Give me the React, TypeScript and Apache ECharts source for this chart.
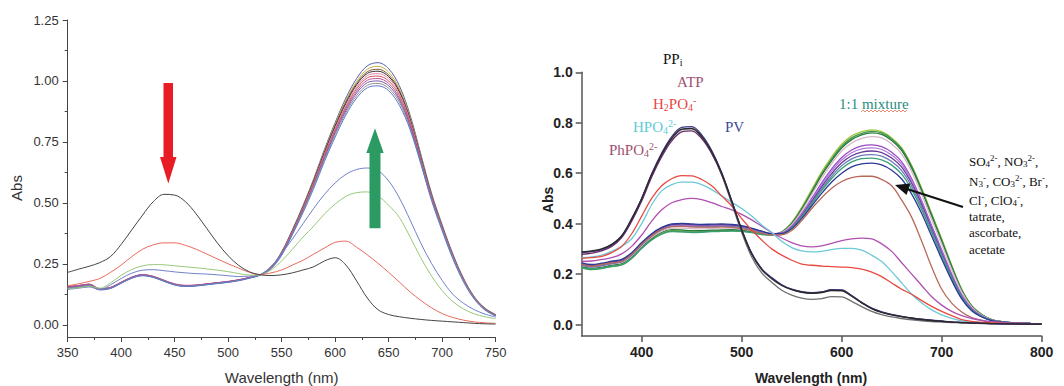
import React, { useEffect, useRef } from "react";
import * as echarts from "echarts";

// ---------------- DATA ----------------
// Left panel wavelengths (nm)
const WL_L = [350,360,370,380,390,400,410,420,430,440,450,460,470,480,490,500,510,520,530,540,550,560,570,580,590,600,610,620,630,640,650,660,670,680,690,700,710,720,730,740,750];
// Left panel: titration spectra
const L_BLACK = [.215,.228,.24,.255,.28,.33,.39,.45,.505,.535,.532,.505,.455,.395,.335,.283,.243,.217,.205,.202,.205,.213,.225,.238,.262,.275,.245,.18,.11,.062,.042,.033,.027,.022,.018,.015,.012,.009,.006,.004,.003];
const L_RED = [.16,.168,.178,.19,.215,.245,.28,.31,.328,.336,.336,.326,.31,.29,.27,.25,.232,.215,.206,.213,.225,.245,.265,.29,.315,.338,.343,.318,.287,.252,.215,.175,.135,.1,.07,.046,.03,.019,.012,.008,.006];
const L_GREEN = [.148,.152,.158,.15,.172,.203,.227,.242,.247,.246,.242,.238,.234,.229,.224,.218,.21,.204,.205,.225,.262,.31,.36,.405,.455,.495,.527,.542,.545,.528,.49,.44,.36,.275,.2,.14,.095,.065,.045,.033,.025];
const L_BLUE = [.145,.15,.155,.145,.164,.19,.212,.224,.226,.222,.217,.213,.21,.208,.205,.201,.198,.2,.206,.24,.292,.352,.415,.478,.535,.582,.617,.637,.643,.632,.59,.52,.43,.335,.252,.182,.125,.088,.062,.044,.032];
const L_B1 = [.152,.157,.163,.145,.151,.172,.193,.203,.196,.18,.165,.159,.161,.166,.171,.176,.183,.193,.206,.236,.3,.39,.49,.6,.72,.83,.93,1.01,1.062,1.075,1.05,.98,.86,.7,.54,.41,.29,.19,.115,.068,.042];
const L_B2 = [.155,.159,.165,.147,.152,.173,.194,.204,.197,.181,.166,.16,.162,.167,.172,.177,.184,.194,.206,.235,.298,.388,.487,.596,.714,.823,.92,.998,1.048,1.06,1.036,.968,.85,.692,.535,.405,.287,.188,.114,.067,.041];
const L_B3 = [.158,.161,.167,.148,.153,.174,.195,.205,.198,.182,.166,.16,.162,.167,.172,.177,.184,.194,.206,.235,.297,.386,.485,.593,.71,.818,.914,.99,1.038,1.048,1.025,.96,.845,.688,.532,.403,.285,.187,.113,.066,.04];
const L_B4 = [.154,.158,.164,.146,.152,.173,.194,.204,.197,.181,.165,.159,.161,.166,.171,.176,.183,.193,.205,.234,.296,.385,.483,.59,.706,.813,.908,.984,1.031,1.04,1.018,.955,.84,.685,.53,.401,.284,.186,.112,.066,.04];
const L_B5 = [.156,.16,.166,.147,.153,.174,.195,.205,.198,.182,.167,.161,.163,.168,.173,.178,.185,.195,.206,.234,.295,.383,.48,.586,.7,.806,.9,.975,1.022,1.03,1.01,.948,.835,.68,.527,.399,.282,.185,.112,.065,.039];
const L_B6 = [.153,.157,.163,.146,.151,.172,.193,.203,.196,.18,.165,.159,.161,.166,.171,.176,.183,.193,.205,.233,.293,.38,.476,.582,.695,.8,.893,.967,1.013,1.02,1.0,.94,.828,.676,.524,.397,.281,.184,.111,.065,.039];
const L_B7 = [.157,.161,.167,.148,.154,.175,.196,.206,.199,.183,.168,.162,.163,.168,.173,.178,.185,.195,.206,.233,.292,.378,.473,.578,.69,.794,.886,.958,1.003,1.01,.99,.93,.82,.672,.52,.395,.279,.183,.11,.064,.038];
const L_B8 = [.154,.158,.164,.146,.152,.173,.194,.204,.197,.181,.166,.16,.162,.167,.172,.177,.184,.194,.205,.232,.29,.375,.47,.574,.684,.787,.878,.95,.993,1.0,.98,.922,.814,.668,.518,.393,.278,.182,.11,.064,.038];
const L_B9 = [.15,.155,.161,.144,.15,.171,.192,.202,.195,.179,.164,.158,.16,.165,.17,.175,.182,.192,.204,.231,.288,.372,.466,.569,.678,.78,.87,.94,.982,.99,.97,.912,.806,.664,.515,.391,.277,.181,.109,.063,.037];
const L_B10 = [.148,.153,.159,.143,.149,.17,.191,.201,.194,.178,.163,.157,.159,.164,.169,.174,.181,.191,.204,.23,.285,.37,.46,.56,.67,.77,.86,.93,.972,.98,.96,.9,.8,.66,.51,.385,.27,.175,.105,.06,.036];

// Right panel wavelengths (nm)
const WL_R = [340,350,360,370,380,390,400,410,420,430,440,450,460,470,480,490,500,510,520,530,540,550,560,570,580,590,600,610,620,630,640,650,660,670,680,690,700,710,720,730,740,750,760,770,780,790,800];
// Right panel: other anions + 1:1 mixture
const R_A1 = [.228,.222,.226,.232,.238,.265,.305,.338,.362,.372,.372,.37,.37,.372,.373,.374,.372,.366,.36,.357,.368,.405,.465,.535,.605,.665,.715,.748,.765,.772,.765,.74,.70,.63,.54,.44,.34,.235,.14,.075,.04,.02,.012,.008,.005,.004,.003];
const R_A2 = [.225,.218,.222,.23,.236,.262,.302,.336,.36,.37,.368,.366,.367,.369,.37,.372,.37,.365,.358,.356,.366,.402,.46,.528,.597,.657,.707,.74,.758,.766,.76,.736,.696,.626,.535,.435,.335,.232,.138,.074,.04,.02,.012,.008,.005,.004,.003];
const R_A3 = [.23,.224,.228,.236,.242,.268,.308,.342,.366,.376,.375,.372,.372,.374,.375,.376,.374,.368,.362,.358,.367,.4,.456,.523,.592,.65,.7,.733,.752,.76,.754,.73,.69,.62,.53,.43,.33,.228,.136,.073,.039,.02,.012,.008,.005,.004,.003];
const R_A4 = [.235,.228,.232,.24,.246,.272,.312,.346,.37,.382,.382,.38,.379,.381,.382,.382,.379,.372,.364,.358,.365,.396,.45,.515,.58,.638,.688,.72,.738,.745,.74,.716,.676,.606,.516,.416,.318,.218,.13,.07,.037,.019,.011,.007,.005,.004,.003];
const R_A5 = [.238,.23,.235,.243,.25,.277,.317,.352,.377,.39,.392,.39,.389,.39,.391,.39,.386,.377,.367,.36,.363,.39,.44,.5,.562,.617,.662,.692,.708,.712,.705,.683,.645,.578,.49,.392,.296,.2,.118,.064,.034,.018,.011,.007,.005,.004,.003];
const R_A6 = [.24,.232,.237,.245,.252,.279,.319,.354,.379,.392,.394,.392,.39,.391,.392,.391,.387,.378,.368,.36,.362,.388,.436,.494,.554,.608,.652,.681,.696,.70,.694,.672,.635,.57,.484,.386,.29,.196,.115,.062,.033,.017,.01,.007,.005,.004,.003];
const R_A7 = [.242,.235,.24,.248,.255,.282,.322,.357,.382,.396,.398,.396,.394,.395,.396,.394,.389,.38,.369,.36,.361,.386,.432,.488,.546,.598,.641,.669,.684,.688,.682,.66,.624,.56,.476,.38,.284,.192,.112,.06,.032,.017,.01,.007,.005,.004,.003];
const R_A8 = [.236,.229,.234,.242,.249,.276,.316,.351,.376,.389,.39,.388,.387,.388,.389,.388,.384,.376,.366,.359,.36,.384,.428,.482,.538,.588,.63,.657,.671,.674,.668,.646,.61,.548,.466,.372,.278,.188,.11,.059,.032,.017,.01,.007,.005,.004,.003];
const R_A9 = [.226,.22,.224,.231,.237,.263,.302,.335,.358,.368,.367,.365,.366,.368,.369,.37,.369,.364,.357,.354,.358,.382,.425,.477,.531,.579,.619,.645,.658,.66,.653,.632,.596,.535,.455,.363,.27,.182,.106,.057,.031,.016,.01,.007,.005,.004,.003];
const R_A10 = [.244,.238,.243,.251,.258,.285,.325,.36,.385,.399,.401,.399,.397,.398,.399,.397,.392,.382,.37,.36,.36,.38,.42,.47,.52,.565,.6,.625,.637,.64,.633,.612,.577,.517,.44,.35,.26,.175,.102,.055,.03,.016,.01,.007,.005,.004,.003];
const R_A11 = [.24,.232,.238,.245,.25,.278,.318,.352,.377,.388,.389,.387,.386,.386,.387,.385,.38,.372,.362,.355,.356,.373,.412,.46,.503,.54,.567,.582,.588,.588,.575,.55,.493,.425,.33,.228,.14,.085,.05,.028,.017,.011,.008,.006,.005,.004,.003];
// Right panel: PPi / ATP / PV group
const R_PPI = [.288,.292,.3,.318,.352,.42,.5,.595,.675,.738,.775,.778,.745,.685,.6,.49,.375,.28,.218,.182,.155,.138,.128,.124,.127,.135,.134,.112,.086,.063,.048,.038,.031,.025,.02,.016,.013,.01,.008,.006,.005,.004,.003,.003,.002,.002,.002];
const R_PV = [.285,.29,.298,.316,.35,.418,.5,.598,.68,.745,.782,.785,.752,.69,.603,.492,.377,.283,.222,.186,.158,.14,.13,.126,.129,.138,.137,.115,.088,.065,.05,.04,.032,.026,.021,.017,.014,.011,.009,.007,.005,.004,.004,.003,.003,.002,.002];
const R_ATP = [.278,.283,.292,.31,.345,.41,.49,.585,.665,.728,.764,.768,.737,.678,.595,.487,.374,.281,.22,.184,.157,.139,.129,.125,.128,.137,.136,.114,.087,.064,.049,.039,.031,.025,.02,.016,.013,.01,.008,.006,.005,.004,.003,.003,.002,.002,.002];
const R_GRAY = [.284,.289,.297,.315,.349,.416,.497,.592,.672,.736,.773,.776,.742,.68,.593,.48,.365,.268,.205,.168,.136,.117,.105,.1,.103,.111,.11,.092,.071,.052,.039,.03,.024,.019,.015,.012,.01,.008,.006,.005,.004,.003,.003,.002,.002,.002,.002];
const R_H2PO4 = [.262,.265,.27,.285,.31,.36,.43,.5,.55,.578,.59,.589,.575,.55,.51,.47,.42,.375,.335,.3,.275,.255,.24,.235,.232,.23,.228,.226,.22,.208,.19,.165,.14,.12,.095,.072,.052,.035,.02,.013,.009,.007,.005,.004,.004,.003,.003];
const R_HPO4 = [.265,.268,.275,.29,.31,.34,.4,.475,.53,.555,.565,.565,.555,.535,.51,.485,.46,.43,.395,.365,.33,.305,.292,.288,.29,.297,.302,.302,.295,.275,.25,.21,.165,.12,.085,.058,.038,.024,.015,.01,.007,.005,.004,.004,.003,.003,.003];
const R_PHPO4 = [.25,.252,.258,.265,.28,.31,.355,.41,.455,.483,.495,.5,.495,.483,.468,.455,.437,.415,.39,.365,.343,.325,.312,.308,.312,.322,.333,.34,.343,.34,.32,.29,.245,.2,.155,.11,.077,.052,.035,.024,.016,.011,.008,.006,.005,.004,.004];

// Tick labels
const L_X_TICKS = [350,400,450,500,550,600,650,700,750];
const L_Y_TICKS = [0,0.25,0.5,0.75,1.0,1.25];
const L_Y_MINOR = [0.125,0.375,0.625,0.875,1.125];
const R_X_TICKS = [400,500,600,700,800];
const R_Y_TICKS = [0,0.2,0.4,0.6,0.8,1.0];

// ---------------- STYLE ----------------
const SANS = '"Liberation Sans", Arial, sans-serif';
const SERIF = '"Liberation Serif", "Times New Roman", serif';

const LEFT_SERIES: [number[], string][] = [
  [L_B1, "#5060a8"], [L_B2, "#c8b040"], [L_B3, "#8a5a3a"], [L_B4, "#333333"], [L_B5, "#e08ab0"],
  [L_B6, "#d05858"], [L_B7, "#c050a0"], [L_B8, "#7a5aa0"], [L_B9, "#909090"], [L_B10, "#5a7ad0"],
  [L_BLUE, "#7080c8"], [L_GREEN, "#98c878"], [L_RED, "#e86a5a"], [L_BLACK, "#444444"],
];
const RIGHT_SERIES: [number[], string][] = [
  [R_A1, "#a8c43c"], [R_A2, "#3a9a4a"], [R_A3, "#2a7a40"], [R_A4, "#d8b8c8"], [R_A5, "#9a4ac8"],
  [R_A6, "#b07ad8"], [R_A7, "#6a3a9a"], [R_A8, "#6a7ab8"], [R_A9, "#3aa078"], [R_A10, "#2a3a96"],
  [R_A11, "#b86a5a"], [R_PHPO4, "#b050b0"], [R_HPO4, "#6ccad8"], [R_H2PO4, "#e84a40"],
  [R_GRAY, "#707070"], [R_ATP, "#6a2a6a"], [R_PV, "#3a3a88"], [R_PPI, "#2a2a2a"],
];

function rich(color: string, size: number) {
  const sub = Math.round(size * 0.66);
  return {
    n: { fill: color, fontFamily: SERIF, fontSize: size, lineHeight: size + 2, verticalAlign: "middle" },
    b: { fill: color, fontFamily: SERIF, fontSize: sub, lineHeight: sub, verticalAlign: "bottom" },
    t: { fill: color, fontFamily: SERIF, fontSize: sub, lineHeight: sub, verticalAlign: "top" },
  };
}

function label(x: number, y: number, text: string, color: string, size: number) {
  return {
    type: "text", x, y, z: 100,
    style: { text, fill: color, fontFamily: SERIF, fontSize: size, align: "left", verticalAlign: "middle", rich: rich(color, size) },
  };
}

export default function App() {
  const ref = useRef<HTMLDivElement>(null);
  useEffect(() => {
    if (!ref.current) return;
    const chart = echarts.init(ref.current, undefined, { renderer: "svg" });

    const series: any[] = [];
    LEFT_SERIES.forEach(([ys, c], i) => {
      series.push({
        type: "line", name: "L" + i, xAxisIndex: 0, yAxisIndex: 0, showSymbol: false, smooth: 0.35,
        lineStyle: { color: c, width: 1 }, data: WL_L.map((x, k) => [x, ys[k]]), silent: true,
      });
    });
    RIGHT_SERIES.forEach(([ys, c], i) => {
      series.push({
        type: "line", name: "R" + i, xAxisIndex: 1, yAxisIndex: 2, showSymbol: false, smooth: 0.35,
        lineStyle: { color: c, width: 1.3 }, data: WL_R.map((x, k) => [x, ys[k]]), silent: true,
      });
    });

    const wavy: number[][] = [];
    for (let x = 861, k = 0; x <= 908; x += 2, k++) wavy.push([x, k % 2 ? 110 : 112]);

    const option: any = {
      animation: false,
      textStyle: { fontFamily: SANS },
      grid: [
        { left: 67.7, top: 20, width: 428, height: 317, outerBoundsMode: "none", containLabel: false },
        { left: 581.7, top: 72.3, width: 460, height: 263.6, outerBoundsMode: "none", containLabel: false },
      ],
      xAxis: [
        {
          gridIndex: 0, type: "value", min: 350, max: 750, interval: 50,
          axisLine: { onZero: false, lineStyle: { color: "#444", width: 1 } },
          axisTick: { length: 5, lineStyle: { color: "#444" } },
          minorTick: { show: true, splitNumber: 2, length: 3, lineStyle: { color: "#444" } },
          axisLabel: { color: "#333", fontSize: 13, fontFamily: SANS, margin: 9, customValues: L_X_TICKS },
          splitLine: { show: false }, minorSplitLine: { show: false },
        },
        {
          gridIndex: 1, type: "value", min: 340, max: 800,
          axisLine: { onZero: false, lineStyle: { color: "#555", width: 1.5 } },
          axisTick: { customValues: R_X_TICKS, length: 6, lineStyle: { color: "#555", width: 1.5 } },
          axisLabel: { customValues: R_X_TICKS, color: "#222", fontSize: 14, fontWeight: "bold", fontFamily: SANS, margin: 9 },
          splitLine: { show: false },
        },
      ],
      yAxis: [
        {
          gridIndex: 0, type: "value", min: -0.05, max: 1.25,
          axisLine: { show: true, onZero: false, lineStyle: { color: "#444", width: 1 } },
          axisTick: { show: true, customValues: L_Y_TICKS, length: 5, lineStyle: { color: "#444" } },
          axisLabel: { customValues: L_Y_TICKS, formatter: (v: number) => v.toFixed(2), color: "#333", fontSize: 13, fontFamily: SANS, margin: 9 },
          splitLine: { show: false },
        },
        {
          gridIndex: 0, type: "value", min: -0.05, max: 1.25, position: "left",
          axisLine: { show: false, onZero: false },
          axisTick: { show: true, customValues: L_Y_MINOR, length: 3, lineStyle: { color: "#444" } },
          axisLabel: { show: false },
          splitLine: { show: false },
        },
        {
          gridIndex: 1, type: "value", min: -0.045, max: 1.0,
          axisLine: { show: true, onZero: false, lineStyle: { color: "#555", width: 1.5 } },
          axisTick: { show: true, customValues: R_Y_TICKS, length: 6, lineStyle: { color: "#555", width: 1.5 } },
          axisLabel: { customValues: R_Y_TICKS, formatter: (v: number) => v.toFixed(1), color: "#222", fontSize: 14, fontWeight: "bold", fontFamily: SANS, margin: 9 },
          splitLine: { show: false },
        },
      ],
      series,
      graphic: [
        // axis titles
        { type: "text", x: 281.7, y: 377, style: { text: "Wavelength (nm)", fill: "#333", fontFamily: SANS, fontSize: 15, align: "center", verticalAlign: "middle" } },
        { type: "text", x: 16.5, y: 188, rotation: Math.PI / 2, style: { text: "Abs", fill: "#333", fontFamily: SANS, fontSize: 15, align: "center", verticalAlign: "middle" } },
        { type: "text", x: 811, y: 378, style: { text: "Wavelength (nm)", fill: "#222", fontFamily: SANS, fontSize: 14, fontWeight: "bold", align: "center", verticalAlign: "middle" } },
        { type: "text", x: 548, y: 200, rotation: Math.PI / 2, style: { text: "Abs", fill: "#222", fontFamily: SANS, fontSize: 14, fontWeight: "bold", align: "center", verticalAlign: "middle" } },
        // left panel arrows
        { type: "polygon", z: 50, shape: { points: [[163.5, 83], [173, 83], [173, 157], [176.5, 157], [168.3, 183.5], [160, 157], [163.5, 157]] }, style: { fill: "#e81c24" } },
        { type: "polygon", z: 50, shape: { points: [[369.5, 228.3], [369.5, 153], [366.3, 153], [375, 128.3], [383.7, 153], [380.5, 153], [380.5, 228.3]] }, style: { fill: "#2b9a63" } },
        // right panel labels
        label(663, 59, "{n|PP}{b|i}", "#111111", 15),
        label(677, 82, "{n|ATP}", "#a05070", 15),
        label(653, 104, "{n|H}{b|2}{n|PO}{b|4}{t|-}", "#e5483f", 15),
        label(633, 127, "{n|HPO}{b|4}{t|2-}", "#5ecbd6", 15),
        label(725, 127, "{n|PV}", "#3c4a9c", 15),
        label(609, 150, "{n|PhPO}{b|4}{t|2-}", "#a05070", 15),
        label(839, 104, "{n|1:1 mixture}", "#2a8c80", 15),
        { type: "polyline", z: 100, shape: { points: wavy }, style: { stroke: "#e07050", lineWidth: 0.8, fill: "none" } },
        label(969, 161, "{n|SO}{b|4}{t|2-}{n|, NO}{b|3}{t|2-}{n|,}", "#111111", 13),
        label(969, 181, "{n|N}{b|3}{t|-}{n|, CO}{b|3}{t|2-}{n|, Br}{t|-}{n|,}", "#111111", 13),
        label(969, 200, "{n|Cl}{t|-}{n|, ClO}{b|4}{t|-}{n|,}", "#111111", 13),
        label(969, 216, "{n|tatrate,}", "#111111", 13),
        label(969, 232, "{n|ascorbate,}", "#111111", 13),
        label(969, 249, "{n|acetate}", "#111111", 13),
        // pointer arrow
        { type: "line", z: 100, shape: { x1: 963, y1: 207, x2: 907, y2: 189 }, style: { stroke: "#111", lineWidth: 2 } },
        { type: "polygon", z: 100, shape: { points: [[895, 185], [910.2, 183.4], [906.6, 195]] }, style: { fill: "#111" } },
      ],
    };
    chart.setOption(option);
    return () => chart.dispose();
  }, []);
  return <div ref={ref} style={{ position: "absolute", left: 0, top: 0, width: 1064, height: 386, background: "#fff" }} />;
}
